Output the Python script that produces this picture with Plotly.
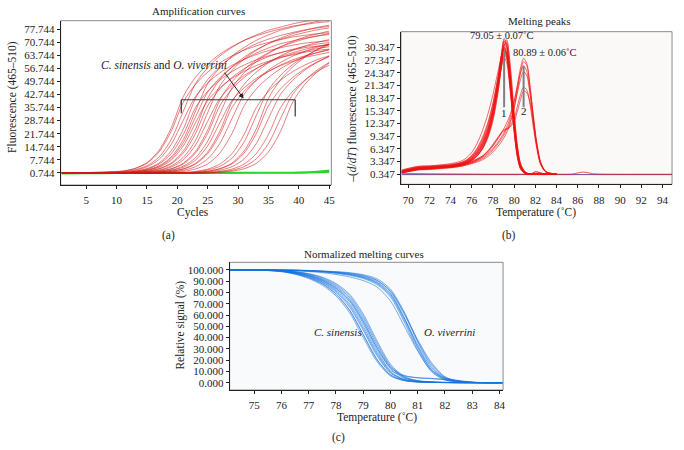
import plotly.graph_objects as go

FONT = "Liberation Serif, Times New Roman, serif"

# (a) amplification curves: fluorescence at each cycle
amp_cycles = [1, 11, 13, 15, 17, 19, 21, 23, 25, 27, 29, 31, 33, 35, 37, 39, 41, 43, 45]
amp_early = [
    [0.7, 1.8, 3.2, 6.3, 12.9, 24.9, 41.7, 52.0, 58.9, 64.3, 68.4, 71.6, 74.1, 76.1, 77.8, 79.3, 80.2, 81.1, 81.7],
    [0.7, 1.7, 3.0, 5.9, 12.0, 23.1, 38.7, 48.2, 54.7, 59.6, 63.4, 66.4, 68.7, 70.6, 72.1, 73.5, 74.4, 75.2, 75.8],
    [0.7, 1.4, 2.4, 4.6, 9.3, 18.7, 33.9, 48.6, 57.0, 63.3, 67.9, 71.7, 74.6, 77.1, 78.8, 80.5, 81.8, 82.6, 83.4],
    [0.7, 1.3, 2.1, 4.0, 8.0, 16.1, 29.1, 41.7, 48.9, 54.3, 58.3, 61.5, 64.1, 66.2, 67.7, 69.1, 70.2, 70.9, 71.5],
    [0.7, 1.1, 1.7, 3.1, 6.1, 12.6, 24.3, 40.7, 50.7, 57.5, 62.7, 66.7, 69.9, 72.3, 74.3, 75.9, 77.3, 78.3, 79.1],
    [0.7, 1.0, 1.6, 2.8, 5.5, 11.1, 21.4, 35.7, 44.5, 50.4, 55.0, 58.5, 61.3, 63.4, 65.1, 66.5, 67.8, 68.6, 69.3],
    [0.7, 0.7, 1.4, 2.4, 4.6, 9.3, 18.7, 33.9, 48.6, 57.0, 63.3, 67.9, 71.7, 74.6, 77.1, 78.8, 80.5, 81.8, 82.6],
    [0.7, 0.7, 1.3, 2.2, 4.2, 8.5, 17.0, 30.7, 44.0, 51.6, 57.3, 61.5, 64.9, 67.6, 69.9, 71.4, 72.9, 74.0, 74.8],
    [0.7, 0.7, 1.2, 2.1, 3.8, 7.6, 15.3, 27.6, 39.5, 46.3, 51.4, 55.1, 58.2, 60.5, 62.6, 63.9, 65.3, 66.3, 67.0],
    [0.7, 0.7, 1.1, 1.7, 3.1, 6.1, 12.6, 24.3, 40.7, 50.7, 57.5, 62.7, 66.7, 69.9, 72.3, 74.3, 75.9, 77.3, 78.3],
    [0.7, 0.7, 1.1, 1.6, 2.9, 5.6, 11.4, 21.9, 36.7, 45.7, 51.8, 56.5, 60.1, 63.0, 65.1, 66.9, 68.4, 69.7, 70.5],
    [0.7, 0.7, 0.7, 1.4, 2.3, 4.5, 9.1, 18.2, 33.1, 47.4, 55.6, 61.8, 66.3, 70.0, 72.9, 75.3, 77.0, 78.6, 79.8],
    [0.7, 0.7, 0.7, 1.3, 2.1, 3.9, 7.8, 15.7, 28.4, 40.6, 47.6, 52.9, 56.7, 59.9, 62.3, 64.4, 65.8, 67.2, 68.3],
    [0.7, 0.7, 0.7, 1.1, 1.7, 3.0, 6.0, 12.3, 23.7, 39.7, 49.5, 56.1, 61.2, 65.1, 68.2, 70.5, 72.5, 74.0, 75.4],
    [0.7, 0.7, 0.7, 1.1, 1.6, 2.9, 5.6, 11.4, 21.9, 36.7, 45.7, 51.8, 56.5, 60.1, 63.0, 65.1, 66.9, 68.4, 69.7],
    [0.7, 0.7, 0.7, 0.7, 1.3, 2.3, 4.4, 8.9, 17.8, 32.3, 46.3, 54.3, 60.3, 64.7, 68.3, 71.1, 73.5, 75.1, 76.7],
    [0.7, 0.7, 0.7, 0.7, 1.2, 2.1, 3.8, 7.6, 15.3, 27.6, 39.5, 46.3, 51.4, 55.1, 58.2, 60.5, 62.6, 63.9, 65.3],
    [0.7, 0.7, 0.7, 0.7, 1.1, 1.7, 3.0, 5.9, 12.0, 23.1, 38.7, 48.2, 54.7, 59.6, 63.4, 66.4, 68.7, 70.6, 72.1],
    [0.7, 0.7, 0.7, 0.7, 1.0, 1.6, 2.8, 5.5, 11.1, 21.4, 35.7, 44.5, 50.4, 55.0, 58.5, 61.3, 63.4, 65.1, 66.5],
    [0.7, 0.7, 0.7, 0.7, 0.7, 1.3, 2.2, 4.1, 8.3, 16.5, 29.9, 42.9, 50.3, 55.8, 59.9, 63.2, 65.8, 68.0, 69.5],
    [0.7, 0.7, 0.7, 0.7, 0.7, 1.1, 1.6, 2.9, 5.6, 11.4, 21.9, 36.7, 45.7, 51.8, 56.5, 60.1, 63.0, 65.1, 66.9],
]
amp_late = [
    [0.7, 0.7, 0.7, 0.7, 0.7, 0.7, 1.0, 1.6, 2.8, 5.5, 11.1, 21.4, 35.7, 44.5, 50.4, 55.0, 58.5, 61.3, 63.4],
    [0.7, 0.7, 0.7, 0.7, 0.7, 0.7, 0.7, 1.3, 2.3, 4.3, 8.7, 17.4, 31.5, 45.2, 53.0, 58.8, 63.1, 66.6, 69.3],
    [0.7, 0.7, 0.7, 0.7, 0.7, 0.7, 0.7, 1.1, 1.6, 2.9, 5.6, 11.4, 21.9, 36.7, 45.7, 51.8, 56.5, 60.1, 63.0],
    [0.7, 0.7, 0.7, 0.7, 0.7, 0.7, 0.7, 1.1, 1.7, 3.1, 6.1, 12.6, 24.3, 40.7, 50.7, 57.5, 62.7, 66.7, 69.9],
    [0.7, 0.7, 0.7, 0.7, 0.7, 0.7, 0.7, 0.7, 1.3, 2.2, 4.1, 8.3, 16.5, 29.9, 42.9, 50.3, 55.8, 59.9, 63.2],
    [0.7, 0.7, 0.7, 0.7, 0.7, 0.7, 0.7, 0.7, 1.0, 1.6, 2.8, 5.5, 11.1, 21.4, 35.7, 44.5, 50.4, 55.0, 58.5],
    [0.7, 0.7, 0.7, 0.7, 0.7, 0.7, 0.7, 0.7, 0.7, 1.3, 2.2, 4.1, 8.3, 16.5, 29.9, 42.9, 50.3, 55.8, 59.9],
    [0.7, 0.7, 0.7, 0.7, 0.7, 0.7, 0.7, 0.7, 0.7, 1.1, 1.7, 3.0, 5.9, 12.0, 23.1, 38.7, 48.2, 54.7, 59.6],
]
neg_cycles = [1, 5, 10, 15, 20, 25, 30, 35, 40, 43, 45]
amp_neg = [
    [0.5, 0.6, 0.7, 0.6, 0.8, 0.7, 0.8, 0.9, 0.9, 1.3, 1.6],
    [0.3, 0.4, 0.5, 0.5, 0.6, 0.5, 0.6, 0.7, 0.7, 0.9, 1.1],
    [0.8, 0.9, 0.9, 1.0, 1.0, 0.9, 1.1, 1.0, 1.2, 1.6, 2.3],
]
amp_xticks = [5, 10, 15, 20, 25, 30, 35, 40, 45]
amp_yticks = [0.744, 7.744, 14.744, 21.744, 28.744, 35.744, 42.744, 49.744, 56.744, 63.744, 70.744, 77.744]

# (b) melting peaks, -(d/dT) fluorescence
peak_temp_1 = [69.4, 70, 71, 72, 73, 74, 75, 75.5, 76, 76.5, 77, 77.5, 78, 78.5, 78.8, 79.05,
               79.3, 79.6, 80, 80.3, 80.6, 81, 81.5, 82, 83, 84]
peaks_sinensis = [
    [1.0, 1.4, 1.9, 2.0, 2.2, 2.4, 2.9, 3.4, 4.3, 5.7, 7.8, 11.0, 16.0, 23.5, 29.0, 32.5, 31.0, 24.5, 12.5, 5.8, 2.2, 0.7, 0.3, 0.3, 0.3, 0.3],
    [0.9, 1.3, 1.8, 1.9, 2.1, 2.3, 2.7, 3.2, 4.0, 5.3, 7.2, 10.2, 15.0, 22.5, 28.2, 31.8, 30.4, 24.0, 12.8, 6.0, 2.4, 0.8, 0.3, 0.3, 0.3, 0.3],
    [0.8, 1.2, 1.7, 1.8, 2.0, 2.2, 2.6, 3.1, 3.9, 5.1, 7.0, 10.0, 14.8, 22.0, 27.6, 31.2, 30.0, 23.8, 12.2, 5.6, 2.1, 0.7, 0.3, 0.8, 0.3, 0.3],
    [1.1, 1.5, 2.0, 2.1, 2.3, 2.5, 3.0, 3.6, 4.6, 6.2, 8.6, 12.0, 17.0, 23.8, 28.3, 30.6, 29.0, 22.6, 11.4, 5.2, 1.9, 0.6, 0.3, 0.3, 0.3, 0.3],
    [0.7, 1.0, 1.5, 1.7, 1.9, 2.1, 2.5, 2.9, 3.6, 4.7, 6.4, 9.2, 13.8, 21.0, 26.5, 30.0, 28.8, 23.0, 12.6, 6.2, 2.5, 0.8, 0.3, 0.3, 0.3, 0.3],
    [0.9, 1.3, 1.8, 1.9, 2.1, 2.3, 2.8, 3.3, 4.2, 5.6, 7.7, 10.8, 15.6, 22.4, 26.8, 29.4, 28.0, 21.8, 11.0, 4.9, 1.8, 0.6, 0.3, 0.3, 0.3, 0.3],
    [0.8, 1.1, 1.6, 1.8, 2.0, 2.2, 2.6, 3.0, 3.8, 5.0, 6.9, 9.8, 14.5, 21.2, 25.8, 28.8, 27.6, 22.0, 11.8, 5.6, 2.2, 0.7, 0.3, 0.9, 0.3, 0.3],
    [1.0, 1.4, 1.9, 2.0, 2.2, 2.4, 2.9, 3.5, 4.5, 6.0, 8.2, 11.4, 16.0, 22.0, 25.6, 28.0, 26.6, 20.6, 10.4, 4.6, 1.7, 0.6, 0.3, 0.3, 0.3, 0.3],
    [0.6, 0.9, 1.4, 1.6, 1.8, 2.0, 2.4, 2.8, 3.5, 4.6, 6.4, 9.4, 14.4, 22.4, 28.4, 32.0, 30.8, 24.6, 13.2, 6.4, 2.5, 0.8, 0.3, 0.3, 0.3, 0.3],
    [1.2, 1.6, 2.1, 2.2, 2.4, 2.6, 3.1, 3.7, 4.8, 6.5, 9.0, 12.4, 17.2, 23.4, 27.4, 29.8, 28.2, 21.6, 10.6, 4.6, 1.6, 0.5, 0.3, 0.3, 0.3, 0.3],
    [0.8, 1.2, 1.7, 1.8, 2.0, 2.2, 2.6, 3.0, 3.7, 4.8, 6.5, 9.2, 13.6, 20.6, 26.6, 31.0, 31.5, 26.0, 14.2, 6.8, 2.7, 0.9, 0.3, 0.3, 0.3, 0.3],
    [0.9, 1.3, 1.8, 1.9, 2.1, 2.3, 2.7, 3.2, 4.1, 5.4, 7.4, 10.5, 15.3, 22.6, 27.6, 30.4, 29.0, 22.8, 11.6, 5.3, 2.0, 0.6, 0.3, 0.3, 0.3, 0.3],
    [1.3, 1.7, 2.2, 2.3, 2.5, 2.8, 3.4, 4.2, 5.5, 7.6, 10.6, 14.4, 19.2, 25.0, 28.4, 30.2, 28.4, 21.4, 10.2, 4.3, 1.5, 0.5, 0.3, 0.3, 0.3, 0.3],
    [0.7, 1.0, 1.5, 1.7, 1.9, 2.1, 2.5, 2.9, 3.6, 4.6, 6.2, 8.8, 13.0, 20.0, 26.0, 30.6, 32.2, 27.0, 15.0, 7.2, 2.9, 1.0, 0.3, 0.3, 0.3, 0.3],
]
peak_temp_2 = [69.4, 70, 71, 72, 73, 74, 75, 76, 77, 77.5, 78, 78.5, 79, 79.5, 80, 80.3,
               80.6, 80.89, 81.2, 81.5, 81.8, 82.1, 82.5, 83, 84]
peaks_viverrini = [
    [0.9, 1.2, 1.6, 1.7, 1.9, 2.1, 2.5, 3.2, 4.3, 5.2, 6.4, 8.0, 10.0, 12.8, 17.5, 21.5, 25.5, 27.8, 26.5, 21.0, 14.0, 7.8, 2.8, 0.8, 0.3],
    [0.7, 1.0, 1.4, 1.5, 1.7, 1.9, 2.2, 2.8, 3.7, 4.5, 5.6, 7.0, 8.8, 11.4, 16.0, 20.2, 24.4, 27.0, 26.0, 21.0, 14.5, 8.4, 3.2, 0.9, 0.3],
    [1.0, 1.3, 1.7, 1.8, 2.0, 2.2, 2.6, 3.4, 4.6, 5.6, 7.0, 8.8, 11.0, 13.6, 17.6, 21.0, 24.4, 26.0, 24.6, 19.6, 13.2, 7.4, 2.7, 0.8, 0.3],
    [0.8, 1.1, 1.5, 1.6, 1.8, 2.0, 2.4, 3.2, 4.6, 5.8, 7.4, 9.2, 10.8, 11.4, 13.6, 16.4, 19.2, 21.0, 20.2, 16.8, 11.6, 6.8, 2.6, 0.8, 0.3],
    [0.6, 0.9, 1.3, 1.4, 1.6, 1.8, 2.2, 3.0, 4.4, 5.6, 7.2, 9.0, 10.6, 11.2, 12.8, 15.2, 18.0, 20.0, 19.6, 17.2, 12.6, 7.8, 3.0, 0.9, 0.3],
    [0.8, 1.1, 1.5, 1.6, 1.8, 2.0, 2.4, 3.0, 4.0, 4.9, 6.1, 7.6, 9.5, 12.0, 16.2, 19.6, 22.8, 24.6, 23.6, 19.2, 13.4, 7.8, 3.0, 0.9, 0.3],
]
base_temp = [69.4, 72, 75, 78, 80, 82, 84, 85.5, 86.5, 87.5, 90, 92, 94.9]
base_red = [0.5, 0.4, 0.35, 0.3, 0.3, 0.3, 0.3, 0.35, 0.8, 0.4, 0.3, 0.3, 0.3]
base_dark = [0.2, 0.2, 0.2, 0.2, 0.2, 0.2, 0.2, 0.2, 0.2, 0.2, 0.2, 0.2, 0.2]
peak_xticks = [70, 72, 74, 76, 78, 80, 82, 84, 86, 88, 90, 92, 94]
peak_yticks = [0.347, 3.347, 6.347, 9.347, 12.347, 15.347, 18.347, 21.347, 24.347, 27.347, 30.347]
tm_values = [79.05, 80.89]
tm_labels = ["79.05 ± 0.07˚C", "80.89 ± 0.06˚C"]

# (c) normalized melting curves, relative signal (%)
norm_temp = [74.1, 75, 75.5, 76, 76.5, 77, 77.5, 78, 78.5, 79, 79.5, 80, 80.5, 81, 81.5, 82, 82.5, 83, 83.5, 84.1]
norm_sinensis = [
    [100, 100, 99.7, 99.0, 97.4, 94.6, 90.0, 82.5, 70.0, 50.0, 27.0, 10.0, 3.0, 1.0, 0.4, 0.2, 0.1, 0, 0, 0],
    [100, 100, 99.8, 99.3, 98.0, 95.6, 91.6, 85.0, 74.0, 55.0, 31.0, 12.5, 4.0, 1.4, 0.5, 0.2, 0.1, 0, 0, 0],
    [100, 99.9, 99.6, 98.8, 96.8, 93.4, 88.0, 79.0, 64.5, 43.0, 21.0, 7.0, 2.0, 0.7, 0.3, 0.1, 0, 0, 0, 0],
    [100, 100, 99.8, 99.4, 98.4, 96.4, 93.0, 87.0, 77.0, 59.0, 35.5, 15.0, 5.0, 1.7, 0.6, 0.2, 0.1, 0, 0, 0],
    [100, 99.9, 99.5, 98.5, 96.2, 92.4, 86.5, 77.0, 62.0, 40.0, 19.0, 6.0, 1.8, 0.6, 0.2, 0.1, 0, 0, 0, 0],
    [100, 100, 99.7, 99.1, 97.6, 95.0, 90.6, 83.5, 72.0, 52.5, 29.0, 11.0, 6.0, 4.2, 3.6, 2.6, 1.2, 0.2, 0, 0],
    [100, 100, 99.8, 99.2, 97.8, 95.2, 91.0, 84.0, 73.0, 54.0, 31.5, 13.5, 6.5, 4.5, 3.8, 3.0, 1.6, 0.3, 0, 0],
    [100, 100, 99.8, 99.4, 98.2, 96.0, 92.2, 86.0, 75.5, 57.0, 33.5, 14.0, 4.5, 1.5, 0.5, 0.2, 0.1, 0, 0, 0],
    [100, 99.9, 99.6, 98.9, 97.0, 93.8, 88.8, 80.5, 67.0, 46.5, 24.0, 8.5, 2.5, 0.8, 0.3, 0.1, 0, 0, 0, 0],
    [100, 100, 99.7, 99.0, 97.2, 94.2, 89.4, 81.5, 68.5, 48.0, 25.5, 9.2, 2.8, 0.9, 0.3, 0.1, 0, 0, 0, 0],
    [100, 100, 99.9, 99.5, 98.6, 96.8, 93.6, 88.0, 78.5, 61.0, 37.5, 16.5, 5.5, 1.9, 0.7, 0.3, 0.1, 0, 0, 0],
    [100, 99.9, 99.5, 98.6, 96.5, 93.0, 87.6, 78.5, 64.0, 42.5, 20.5, 6.8, 2.0, 0.6, 0.2, 0.1, 0, 0, 0, 0],
]
norm_viverrini = [
    [100, 100, 100, 99.9, 99.7, 99.3, 98.7, 97.8, 96.4, 94.0, 89.5, 79.5, 58.0, 32.0, 12.0, 3.0, 0.8, 0.2, 0, 0],
    [100, 100, 100, 99.9, 99.8, 99.5, 99.0, 98.3, 97.2, 95.2, 91.0, 81.0, 61.0, 36.0, 15.0, 4.2, 1.2, 0.3, 0, 0],
    [100, 100, 99.9, 99.8, 99.5, 99.0, 98.2, 97.0, 95.2, 92.4, 87.2, 76.0, 54.0, 29.0, 10.5, 2.6, 0.7, 0.1, 0, 0],
    [100, 100, 100, 99.9, 99.7, 99.4, 98.8, 98.0, 96.8, 94.6, 90.6, 81.5, 62.0, 38.0, 18.0, 5.2, 1.4, 0.3, 0, 0],
    [100, 100, 99.9, 99.7, 99.3, 98.6, 97.6, 96.0, 93.8, 90.6, 85.0, 72.5, 50.5, 28.0, 10.0, 2.4, 0.6, 0.1, 0, 0],
    [100, 100, 100, 99.9, 99.7, 99.3, 98.6, 97.6, 96.0, 93.2, 88.0, 77.5, 56.0, 31.0, 11.5, 4.0, 2.0, 0.6, 0, 0],
    [100, 100, 99.9, 99.8, 99.6, 99.1, 98.4, 97.4, 95.8, 93.4, 88.8, 78.5, 57.5, 33.5, 13.5, 3.6, 1.0, 0.2, 0, 0],
    [100, 100, 100, 99.9, 99.8, 99.6, 99.1, 98.5, 97.6, 95.8, 92.2, 83.0, 63.0, 37.0, 16.5, 5.0, 1.5, 0.4, 0, 0],
]
norm_xticks = [75, 76, 77, 78, 79, 80, 81, 82, 83, 84]
norm_yticks = [0, 10, 20, 30, 40, 50, 60, 70, 80, 90, 100]

RED_A = "rgba(210,25,25,0.8)"
RED_B = "rgba(238,20,20,0.72)"
BLUE = "rgba(22,115,222,0.72)"

fig = go.Figure()

def line(x, y, color, width, ax, shape="spline"):
    fig.add_trace(go.Scatter(x=x, y=y, mode="lines", xaxis="x" + ax, yaxis="y" + ax,
                             line=dict(color=color, width=width, shape=shape, smoothing=0.8),
                             hoverinfo="skip"))

for ys in amp_neg:
    line(neg_cycles, ys, "#2bd62b", 1.3, "")
for ys in amp_early + amp_late:
    line(amp_cycles, ys, RED_A, 0.7, "")

line(base_temp, base_dark, "#6a4a9a", 1.0, "2", "linear")
line(base_temp, base_red, RED_B, 1.0, "2")
for ys in peaks_viverrini:
    line(peak_temp_2, ys, RED_B, 0.9, "2")
for ys in peaks_sinensis:
    line(peak_temp_1, ys, RED_B, 0.9, "2")

for ys in norm_viverrini + norm_sinensis:
    line(norm_temp, ys, BLUE, 0.8, "3")

def axis(domain, rng, tickvals, anchor, fmt=None, standoff=0):
    d = dict(domain=domain, range=rng, tickvals=tickvals, anchor=anchor,
             showline=True, linecolor="#222", linewidth=1, ticks="outside", ticklen=3,
             tickcolor="#222", showgrid=False, zeroline=False, ticklabelstandoff=standoff,
             tickfont=dict(family=FONT, size=11, color="#222"))
    if fmt:
        d["tickformat"] = fmt
    return d

fig.update_layout(
    width=684, height=450, margin=dict(l=0, r=0, t=0, b=0),
    paper_bgcolor="white", plot_bgcolor="rgba(0,0,0,0)", showlegend=False,
    xaxis=axis([0.0892, 0.4873], [0.8, 45.35], amp_xticks, "y", standoff=2),
    yaxis=axis([0.5889, 0.954], [-5.7, 82.2], amp_yticks, "x", ".3f"),
    xaxis2=axis([0.5896, 0.9883], [69.31, 94.9], peak_xticks, "y2", standoff=2),
    yaxis2=axis([0.5904, 0.9296], [-2.1, 34.1], peak_yticks, "x2", ".3f"),
    xaxis3=axis([0.3377, 0.7398], [74.1, 84.13], norm_xticks, "y3", standoff=2),
    yaxis3=axis([0.1333, 0.4171], [-6.5, 106.8], norm_yticks, "x3", ".3f"),
)

shapes = []
for ax, bg in [("", "#ffffff"), ("2", "#fbf8f8"), ("3", "#f9fafb")]:
    shapes.append(dict(type="rect", xref="x" + ax + " domain", yref="y" + ax + " domain",
                       x0=0, x1=1, y0=0, y1=1, line=dict(color="#8a8a8a", width=1),
                       fillcolor=bg, layer="below"))
# bracket in (a)
for x0, y0, x1, y1 in [(20.65, 39.9, 39.4, 39.9), (20.65, 39.9, 20.65, 32.7), (39.4, 39.9, 39.4, 30.9)]:
    shapes.append(dict(type="line", xref="x", yref="y", x0=x0, y0=y0, x1=x1, y1=y1,
                       line=dict(color="#333", width=1.2)))
# Tm markers in (b)
for tm, top in zip(tm_values, [29.6, 26.0]):
    shapes.append(dict(type="line", xref="x2", yref="y2", x0=tm, x1=tm, y0=16.2, y1=top,
                       line=dict(color="#808080", width=2)))
fig.update_layout(shapes=shapes)

def txt(x, y, text, size=11.5, angle=0):
    return dict(x=x, y=y, xref="paper", yref="paper", text=text, showarrow=False,
                textangle=angle, xanchor="center", yanchor="middle",
                font=dict(family=FONT, size=size, color="#222"))

def note(x, y, ax, text, size=11):
    return dict(x=x, y=y, xref="x" + ax, yref="y" + ax, text=text, showarrow=False,
                xanchor="center", yanchor="middle", font=dict(family=FONT, size=size, color="#222"))

ann = [
    txt(0.292, 0.9756, "Amplification curves", 11),
    txt(0.2839, 0.5282, "Cycles"),
    txt(0.0194, 0.7851, "Fluorescence (465–510)", angle=-90),
    txt(0.2471, 0.4771, "(a)"),
    txt(0.7939, 0.954, "Melting peaks", 11),
    txt(0.7876, 0.5282, "Temperature (˚C)"),
    txt(0.519, 0.758, "–(<i>d</i>/<i>dT</i>) fluorescence (465–510)", angle=-90),
    txt(0.7481, 0.4771, "(b)"),
    txt(0.5351, 0.4356, "Normalized melting curves", 11),
    txt(0.5541, 0.0727, "Temperature (˚C)"),
    txt(0.2656, 0.2778, "Relative signal (%)", angle=-90),
    txt(0.4971, 0.0282, "(c)"),
    note(17.8, 58.6, "", "<i>C. sinensis</i> and <i>O. viverrini</i>", 11.5),
    dict(x=30.9, y=40.6, xref="x", yref="y", ax=27.6, ay=55.2, axref="x", ayref="y", text="",
         showarrow=True, arrowhead=2, arrowsize=1, arrowwidth=1, arrowcolor="#222"),
    note(78.81, 33.1, "2", tm_labels[0], 10.5),
    note(82.9, 29.15, "2", tm_labels[1], 10.5),
    note(tm_values[0], 14.7, "2", "1"),
    note(tm_values[1], 15.3, "2", "2"),
    note(78.08, 44.7, "3", "<i>C. sinensis</i>"),
    note(82.17, 44.7, "3", "<i>O. viverrini</i>"),
]
fig.update_layout(annotations=ann)

# the page's default body margin would shift the figure by 8 px
fig.write_html("out.html", config={"displayModeBar": False},
               post_script="document.body.style.margin='0px';")
